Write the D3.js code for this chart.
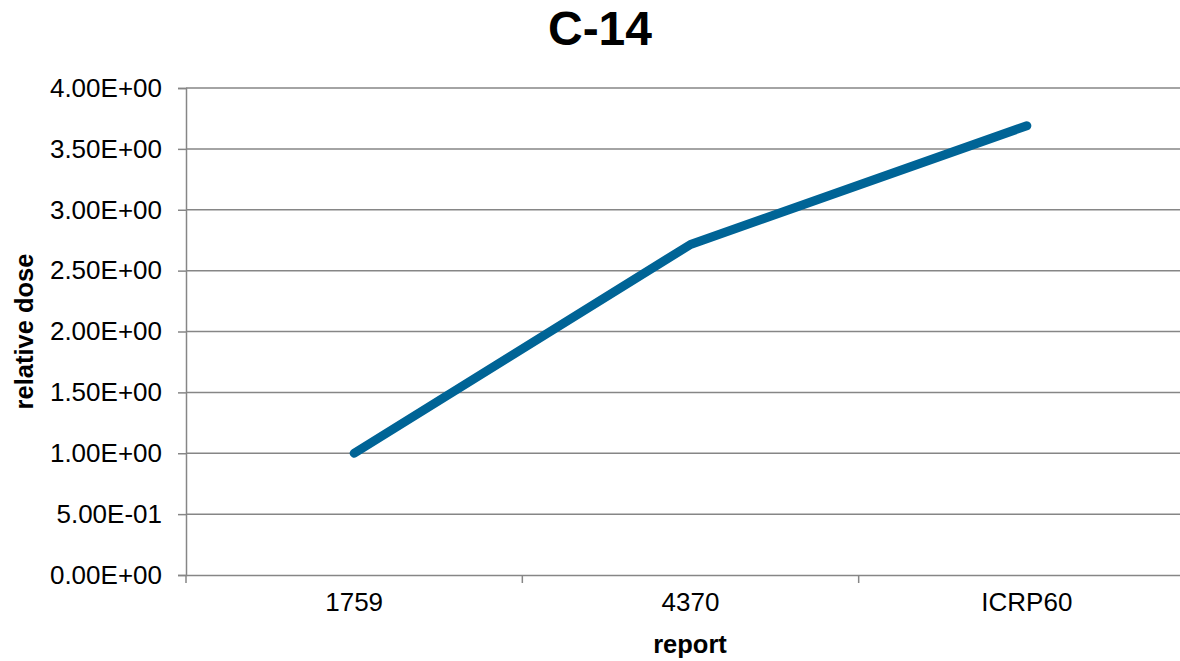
<!DOCTYPE html>
<html>
<head>
<meta charset="utf-8">
<script src="https://cdn.jsdelivr.net/npm/d3@7"></script>
<style>
  html, body { margin: 0; padding: 0; background: #fff; }
  svg { display: block; font-family: "Liberation Sans", Arial, sans-serif; }
</style>
</head>
<body>
<svg id="chart" width="1180" height="661"></svg>
<script>
// C-14 relative dose by report
const categories = ["1759", "4370", "ICRP60"];
const doseValues = [1.0, 2.715, 3.69];
const yTickValues = [0, 0.5, 1.0, 1.5, 2.0, 2.5, 3.0, 3.5, 4.0];
const yTickLabels = ["0.00E+00", "5.00E-01", "1.00E+00", "1.50E+00", "2.00E+00",
                     "2.50E+00", "3.00E+00", "3.50E+00", "4.00E+00"];

const svg = d3.select("#chart");
const margin = { left: 186, right: 1195, top: 88, bottom: 575 };

const x = d3.scaleBand().domain(categories).range([margin.left, margin.right]);
const y = d3.scaleLinear().domain([0, 4]).range([margin.bottom, margin.top]);

const gridColor = "#868686";

// horizontal gridlines
svg.append("g")
  .selectAll("line")
  .data(yTickValues.filter(v => v > 0))
  .join("line")
  .attr("x1", margin.left).attr("x2", margin.right)
  .attr("y1", d => y(d)).attr("y2", d => y(d))
  .attr("stroke", gridColor).attr("stroke-width", 1.5);

// y axis
const yAxis = svg.append("g")
  .attr("transform", `translate(${margin.left},0)`)
  .call(d3.axisLeft(y).tickValues(yTickValues)
    .tickFormat((d, i) => yTickLabels[i]).tickSize(8).tickPadding(16));
yAxis.select(".domain").attr("stroke", gridColor).attr("stroke-width", 1.5);
yAxis.selectAll(".tick line").attr("stroke", gridColor).attr("stroke-width", 1.5);
yAxis.selectAll(".tick text")
  .attr("font-size", 26).attr("fill", "#000")
  .attr("font-family", "'Liberation Sans', Arial, sans-serif");

// x axis with ticks on category boundaries
const xAxis = svg.append("g")
  .attr("transform", `translate(0,${margin.bottom})`)
  .call(d3.axisBottom(x).tickSize(0).tickPadding(18));
xAxis.select(".domain").attr("stroke", gridColor).attr("stroke-width", 1.5);
xAxis.selectAll(".tick text")
  .attr("font-size", 26).attr("fill", "#000")
  .attr("font-family", "'Liberation Sans', Arial, sans-serif");
svg.append("g")
  .selectAll("line")
  .data(categories)
  .join("line")
  .attr("x1", d => x(d)).attr("x2", d => x(d))
  .attr("y1", margin.bottom).attr("y2", margin.bottom + 8)
  .attr("stroke", gridColor).attr("stroke-width", 1.5);

// series line
const line = d3.line()
  .x((d, i) => x(categories[i]) + x.bandwidth() / 2)
  .y(d => y(d));
svg.append("path")
  .datum(doseValues)
  .attr("d", line)
  .attr("fill", "none")
  .attr("stroke", "#006496")
  .attr("stroke-width", 9)
  .attr("stroke-linecap", "round")
  .attr("stroke-linejoin", "round");

// title
svg.append("text")
  .attr("x", 600).attr("y", 45)
  .attr("text-anchor", "middle")
  .attr("font-size", 48).attr("font-weight", "bold")
  .text("C-14");

// axis titles
svg.append("text")
  .attr("x", 690).attr("y", 653)
  .attr("text-anchor", "middle")
  .attr("font-size", 25.5).attr("font-weight", "bold")
  .text("report");

svg.append("text")
  .attr("transform", `translate(33,${(margin.top + margin.bottom) / 2}) rotate(-90)`)
  .attr("text-anchor", "middle")
  .attr("font-size", 25.5).attr("font-weight", "bold")
  .text("relative dose");
</script>
</body>
</html>
